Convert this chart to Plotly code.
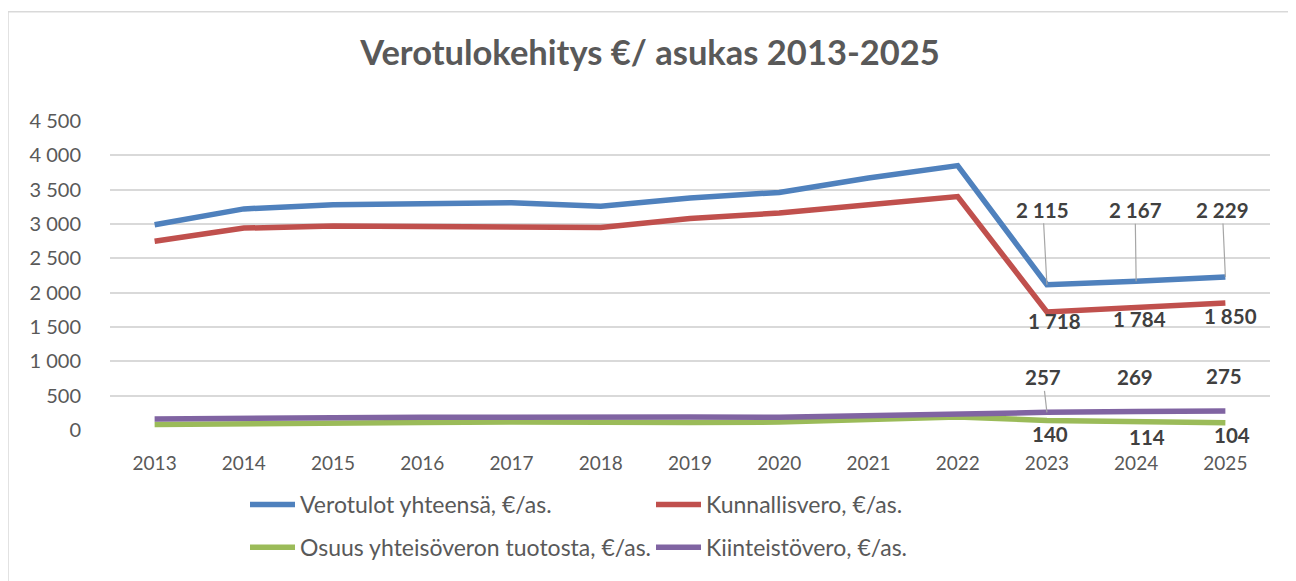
import plotly.graph_objects as go

years = [str(y) for y in range(2013, 2026)]
verotulot = [2990, 3220, 3280, 3290, 3310, 3260, 3380, 3460, 3670, 3850, 2115, 2167, 2229]
kunnallisvero = [2750, 2940, 2970, 2970, 2970, 2950, 3080, 3160, 3280, 3400, 1718, 1784, 1850]
yhteisovero = [80, 95, 110, 110, 115, 105, 110, 115, 160, 190, 140, 114, 104]
kiinteistovero = [160, 175, 180, 185, 190, 190, 190, 185, 215, 240, 257, 269, 275]

names = ["Verotulot yhteensä, €/as.", "Kunnallisvero, €/as.",
         "Osuus yhteisöveron tuotosta, €/as.", "Kiinteistövero, €/as."]
colors = ["#4f81bd", "#c0504d", "#9bbb59", "#8064a2"]
series = [verotulot, kunnallisvero, yhteisovero, kiinteistovero]
legends = ["legend", "legend", "legend2", "legend2"]

FONT = "Lato"
GREY = "#595959"
LABEL = "#404040"

fig = go.Figure()
for i in [0, 1, 2, 3]:
    fig.add_trace(go.Scatter(
        x=years, y=series[i], mode="lines", name=names[i],
        line=dict(color=colors[i], width=5.5),
        legend=legends[i], hoverinfo="skip",
    ))

def fmt(v):
    return f"{v:,}".replace(",", " ")

LBLFONT = dict(family=FONT, size=20.5, color=LABEL)
annotations = []

def lbl(k, vals, **kw):
    d = dict(x=k, y=vals[k], xref="x", yref="y", text="<b>" + fmt(vals[k]) + "</b>",
             font=LBLFONT)
    d.update(kw)
    return d

# Blue labels above with leader lines
for k, (dx, dy) in zip(range(10, 13), [(-4, -75), (-1, -71), (-3, -67)]):
    annotations.append(lbl(k, verotulot, showarrow=True, arrowhead=0, arrowwidth=1.2,
                           arrowcolor="#a6a6a6", ax=dx, ay=dy))
# Red labels below
for k, (dx, dy) in zip(range(10, 13), [(8, -9), (3, -11), (5, -13)]):
    annotations.append(lbl(k, kunnallisvero, showarrow=False, xshift=dx, yshift=dy))
# Purple labels above
annotations.append(lbl(10, kiinteistovero, showarrow=True, arrowhead=0, arrowwidth=1.2,
                       arrowcolor="#a6a6a6", ax=-4, ay=-35))
for k in [11, 12]:
    annotations.append(lbl(k, kiinteistovero, showarrow=False, xshift=-1, yshift=35))
# Green labels below
for k, (dx, dy) in zip(range(10, 13), [(3, -14), (11, -15), (7, -12)]):
    annotations.append(lbl(k, yhteisovero, showarrow=False, xshift=dx, yshift=dy))

# page body has an 8px margin; work in screen pixels and convert
OFF = 8
W, H = 1296 - OFF, 581 - OFF
L, T = 110 - OFF, 121 - OFF
pw, ph = 1160, 311
R = W - L - pw
B = H - T - ph

def sx(x):  # screen x -> paper
    return (x - OFF - L) / pw

def sy(y):  # screen y -> paper
    return (T + ph - (y - OFF)) / ph

fig.update_layout(
    width=W, height=H,
    margin=dict(l=L, r=R, t=T, b=B),
    paper_bgcolor="white", plot_bgcolor="white",
    font=dict(family=FONT, color=GREY, size=19),
    title=dict(text="<b>Verotulokehitys €/ asukas 2013-2025</b>", x=sx(650),
               xref="paper", xanchor="center", y=1 - (53 - OFF) / H, yanchor="middle",
               font=dict(family=FONT, size=34.5, color=GREY)),
    xaxis=dict(type="category", range=[-0.5, 12.5], showgrid=False, zeroline=False,
               showline=False, ticks="", tickfont=dict(size=19, color=GREY), ticklabelstandoff=20),
    yaxis=dict(range=[0, 4500], tickvals=list(range(0, 4501, 500)),
               ticktext=[fmt(v) for v in range(0, 4501, 500)],
               showgrid=True, gridcolor="#d9d9d9", gridwidth=1.5, zeroline=False,
               showline=False, ticks="", tickfont=dict(size=20, color=GREY), ticklabelstandoff=28),
    legend=dict(orientation="h", x=sx(245), xanchor="left",
                y=sy(507), yanchor="middle", itemwidth=45,
                entrywidth=346, entrywidthmode="pixels",
                font=dict(size=23, color=GREY), bgcolor="rgba(0,0,0,0)"),
    legend2=dict(orientation="h", x=sx(245), xanchor="left",
                 y=sy(550), yanchor="middle", itemwidth=45,
                 entrywidth=346, entrywidthmode="pixels",
                 font=dict(size=23, color=GREY), bgcolor="rgba(0,0,0,0)"),
    annotations=annotations,
    shapes=[dict(type="rect", xref="paper", yref="paper", x0=sx(8), y0=sy(11), x1=sx(1320), y1=sy(620),
                 line=dict(color="#d9d9d9", width=1.5), fillcolor="rgba(0,0,0,0)", layer="below")],
    showlegend=True,
)

fig.write_html("out.html")
